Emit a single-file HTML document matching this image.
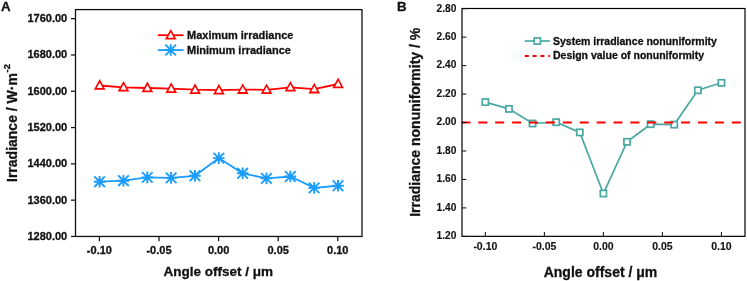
<!DOCTYPE html>
<html><head><meta charset="utf-8"><style>
html,body{margin:0;padding:0;background:#fff;}
body{width:747px;height:281px;overflow:hidden;}
svg{display:block;will-change:transform;}
</style></head><body>
<svg width="747" height="281" viewBox="0 0 747 281">
<polyline points="99.70,85.50 123.54,87.30 147.38,88.00 171.22,88.65 195.06,89.70 218.90,90.20 242.74,89.60 266.58,89.80 290.42,87.30 314.26,89.10 338.10,84.00" fill="none" stroke="#ff0000" stroke-width="1.8"/>
<polyline points="99.60,181.70 123.44,180.70 147.28,177.40 171.12,177.85 194.96,175.80 218.80,158.10 242.64,173.30 266.48,178.40 290.32,176.50 314.16,187.90 338.00,185.75" fill="none" stroke="#1b9cff" stroke-width="1.8"/>
<polygon points="99.70,79.10 93.90,89.80 105.50,89.80" fill="#ff0000"/><polygon points="99.70,82.45 96.70,88.00 102.70,88.00" fill="#fff"/>
<polygon points="123.54,80.90 117.74,91.60 129.34,91.60" fill="#ff0000"/><polygon points="123.54,84.25 120.54,89.80 126.54,89.80" fill="#fff"/>
<polygon points="147.38,81.60 141.58,92.30 153.18,92.30" fill="#ff0000"/><polygon points="147.38,84.95 144.38,90.50 150.38,90.50" fill="#fff"/>
<polygon points="171.22,82.25 165.42,92.95 177.02,92.95" fill="#ff0000"/><polygon points="171.22,85.60 168.22,91.15 174.22,91.15" fill="#fff"/>
<polygon points="195.06,83.30 189.26,94.00 200.86,94.00" fill="#ff0000"/><polygon points="195.06,86.65 192.06,92.20 198.06,92.20" fill="#fff"/>
<polygon points="218.90,83.80 213.10,94.50 224.70,94.50" fill="#ff0000"/><polygon points="218.90,87.15 215.90,92.70 221.90,92.70" fill="#fff"/>
<polygon points="242.74,83.20 236.94,93.90 248.54,93.90" fill="#ff0000"/><polygon points="242.74,86.55 239.74,92.10 245.74,92.10" fill="#fff"/>
<polygon points="266.58,83.40 260.78,94.10 272.38,94.10" fill="#ff0000"/><polygon points="266.58,86.75 263.58,92.30 269.58,92.30" fill="#fff"/>
<polygon points="290.42,80.90 284.62,91.60 296.22,91.60" fill="#ff0000"/><polygon points="290.42,84.25 287.42,89.80 293.42,89.80" fill="#fff"/>
<polygon points="314.26,82.70 308.46,93.40 320.06,93.40" fill="#ff0000"/><polygon points="314.26,86.05 311.26,91.60 317.26,91.60" fill="#fff"/>
<polygon points="338.10,77.60 332.30,88.30 343.90,88.30" fill="#ff0000"/><polygon points="338.10,80.95 335.10,86.50 341.10,86.50" fill="#fff"/>
<path d="M93.80,181.70H105.40M99.60,175.90V187.50M94.30,176.40L104.90,187.00M94.30,187.00L104.90,176.40" stroke="#1b9cff" stroke-width="1.9" fill="none"/>
<path d="M117.64,180.70H129.24M123.44,174.90V186.50M118.14,175.40L128.74,186.00M118.14,186.00L128.74,175.40" stroke="#1b9cff" stroke-width="1.9" fill="none"/>
<path d="M141.48,177.40H153.08M147.28,171.60V183.20M141.98,172.10L152.58,182.70M141.98,182.70L152.58,172.10" stroke="#1b9cff" stroke-width="1.9" fill="none"/>
<path d="M165.32,177.85H176.92M171.12,172.05V183.65M165.82,172.55L176.42,183.15M165.82,183.15L176.42,172.55" stroke="#1b9cff" stroke-width="1.9" fill="none"/>
<path d="M189.16,175.80H200.76M194.96,170.00V181.60M189.66,170.50L200.26,181.10M189.66,181.10L200.26,170.50" stroke="#1b9cff" stroke-width="1.9" fill="none"/>
<path d="M213.00,158.10H224.60M218.80,152.30V163.90M213.50,152.80L224.10,163.40M213.50,163.40L224.10,152.80" stroke="#1b9cff" stroke-width="1.9" fill="none"/>
<path d="M236.84,173.30H248.44M242.64,167.50V179.10M237.34,168.00L247.94,178.60M237.34,178.60L247.94,168.00" stroke="#1b9cff" stroke-width="1.9" fill="none"/>
<path d="M260.68,178.40H272.28M266.48,172.60V184.20M261.18,173.10L271.78,183.70M261.18,183.70L271.78,173.10" stroke="#1b9cff" stroke-width="1.9" fill="none"/>
<path d="M284.52,176.50H296.12M290.32,170.70V182.30M285.02,171.20L295.62,181.80M285.02,181.80L295.62,171.20" stroke="#1b9cff" stroke-width="1.9" fill="none"/>
<path d="M308.36,187.90H319.96M314.16,182.10V193.70M308.86,182.60L319.46,193.20M308.86,193.20L319.46,182.60" stroke="#1b9cff" stroke-width="1.9" fill="none"/>
<path d="M332.20,185.75H343.80M338.00,179.95V191.55M332.70,180.45L343.30,191.05M332.70,191.05L343.30,180.45" stroke="#1b9cff" stroke-width="1.9" fill="none"/>
<rect x="75.5" y="9.6" width="286.5" height="226.85" fill="none" stroke="#111" stroke-width="1.3"/>
<line x1="71" y1="236.45" x2="75.5" y2="236.45" stroke="#111" stroke-width="1.25"/>
<text x="67.2" y="239.85" text-anchor="end" font-size="11" font-family="Liberation Sans, sans-serif" font-weight="bold" fill="#111" stroke="#111" stroke-width="0.3">1280.00</text>
<line x1="71" y1="200.15" x2="75.5" y2="200.15" stroke="#111" stroke-width="1.25"/>
<text x="67.2" y="203.55" text-anchor="end" font-size="11" font-family="Liberation Sans, sans-serif" font-weight="bold" fill="#111" stroke="#111" stroke-width="0.3">1360.00</text>
<line x1="71" y1="163.85" x2="75.5" y2="163.85" stroke="#111" stroke-width="1.25"/>
<text x="67.2" y="167.25" text-anchor="end" font-size="11" font-family="Liberation Sans, sans-serif" font-weight="bold" fill="#111" stroke="#111" stroke-width="0.3">1440.00</text>
<line x1="71" y1="127.55" x2="75.5" y2="127.55" stroke="#111" stroke-width="1.25"/>
<text x="67.2" y="130.95" text-anchor="end" font-size="11" font-family="Liberation Sans, sans-serif" font-weight="bold" fill="#111" stroke="#111" stroke-width="0.3">1520.00</text>
<line x1="71" y1="91.25" x2="75.5" y2="91.25" stroke="#111" stroke-width="1.25"/>
<text x="67.2" y="94.65" text-anchor="end" font-size="11" font-family="Liberation Sans, sans-serif" font-weight="bold" fill="#111" stroke="#111" stroke-width="0.3">1600.00</text>
<line x1="71" y1="54.95" x2="75.5" y2="54.95" stroke="#111" stroke-width="1.25"/>
<text x="67.2" y="58.35" text-anchor="end" font-size="11" font-family="Liberation Sans, sans-serif" font-weight="bold" fill="#111" stroke="#111" stroke-width="0.3">1680.00</text>
<line x1="71" y1="18.65" x2="75.5" y2="18.65" stroke="#111" stroke-width="1.25"/>
<text x="67.2" y="22.05" text-anchor="end" font-size="11" font-family="Liberation Sans, sans-serif" font-weight="bold" fill="#111" stroke="#111" stroke-width="0.3">1760.00</text>
<line x1="99.40" y1="236.45" x2="99.40" y2="241.2" stroke="#111" stroke-width="1.25"/>
<text x="99.40" y="254" text-anchor="middle" font-size="11" font-family="Liberation Sans, sans-serif" font-weight="bold" fill="#111" stroke="#111" stroke-width="0.3">-0.10</text>
<line x1="159.00" y1="236.45" x2="159.00" y2="241.2" stroke="#111" stroke-width="1.25"/>
<text x="159.00" y="254" text-anchor="middle" font-size="11" font-family="Liberation Sans, sans-serif" font-weight="bold" fill="#111" stroke="#111" stroke-width="0.3">-0.05</text>
<line x1="218.60" y1="236.45" x2="218.60" y2="241.2" stroke="#111" stroke-width="1.25"/>
<text x="218.60" y="254" text-anchor="middle" font-size="11" font-family="Liberation Sans, sans-serif" font-weight="bold" fill="#111" stroke="#111" stroke-width="0.3">0.00</text>
<line x1="278.20" y1="236.45" x2="278.20" y2="241.2" stroke="#111" stroke-width="1.25"/>
<text x="278.20" y="254" text-anchor="middle" font-size="11" font-family="Liberation Sans, sans-serif" font-weight="bold" fill="#111" stroke="#111" stroke-width="0.3">0.05</text>
<line x1="337.80" y1="236.45" x2="337.80" y2="241.2" stroke="#111" stroke-width="1.25"/>
<text x="337.80" y="254" text-anchor="middle" font-size="11" font-family="Liberation Sans, sans-serif" font-weight="bold" fill="#111" stroke="#111" stroke-width="0.3">0.10</text>
<text x="218.2" y="275.8" text-anchor="middle" font-size="13.5" font-family="Liberation Sans, sans-serif" font-weight="bold" fill="#111" stroke="#111" stroke-width="0.3">Angle offset / μm</text>
<text transform="translate(16.5,123) rotate(-90)" text-anchor="middle" font-size="14" font-family="Liberation Sans, sans-serif" font-weight="bold" fill="#111" stroke="#111" stroke-width="0.3">Irradiance / W·m<tspan dx="0.6" dy="-6.3" font-size="9.5">-2</tspan></text>
<text x="1" y="10.8" font-size="13.3" font-family="Liberation Sans, sans-serif" font-weight="bold" fill="#111" stroke="#111" stroke-width="0.3">A</text>
<line x1="157.8" y1="35.2" x2="183.5" y2="35.2" stroke="#ff0000" stroke-width="1.8"/>
<polygon points="170.70,28.90 164.90,39.60 176.50,39.60" fill="#ff0000"/><polygon points="170.70,32.25 167.70,37.80 173.70,37.80" fill="#fff"/>
<text x="187" y="39.3" font-size="11" font-family="Liberation Sans, sans-serif" font-weight="bold" fill="#111" stroke="#111" stroke-width="0.3">Maximum irradiance</text>
<line x1="157.8" y1="50.1" x2="183.5" y2="50.1" stroke="#1b9cff" stroke-width="1.8"/>
<path d="M164.90,50.00H176.50M170.70,44.20V55.80M165.40,44.70L176.00,55.30M165.40,55.30L176.00,44.70" stroke="#1b9cff" stroke-width="1.9" fill="none"/>
<text x="187" y="54.2" font-size="11" font-family="Liberation Sans, sans-serif" font-weight="bold" fill="#111" stroke="#111" stroke-width="0.3">Minimum irradiance</text>
<polyline points="485.35,102.10 508.96,108.90 532.57,123.50 556.18,122.20 579.79,132.40 603.40,193.50 627.01,141.80 650.62,124.20 674.23,124.60 697.84,90.30 721.45,82.80" fill="none" stroke="#4aa8a2" stroke-width="1.7"/>
<rect x="482.25" y="99.00" width="6.20" height="6.20" fill="#fff" stroke="#4aa8a2" stroke-width="1.7"/>
<rect x="505.86" y="105.80" width="6.20" height="6.20" fill="#fff" stroke="#4aa8a2" stroke-width="1.7"/>
<rect x="529.47" y="120.40" width="6.20" height="6.20" fill="#fff" stroke="#4aa8a2" stroke-width="1.7"/>
<rect x="553.08" y="119.10" width="6.20" height="6.20" fill="#fff" stroke="#4aa8a2" stroke-width="1.7"/>
<rect x="576.69" y="129.30" width="6.20" height="6.20" fill="#fff" stroke="#4aa8a2" stroke-width="1.7"/>
<rect x="600.30" y="190.40" width="6.20" height="6.20" fill="#fff" stroke="#4aa8a2" stroke-width="1.7"/>
<rect x="623.91" y="138.70" width="6.20" height="6.20" fill="#fff" stroke="#4aa8a2" stroke-width="1.7"/>
<rect x="647.52" y="121.10" width="6.20" height="6.20" fill="#fff" stroke="#4aa8a2" stroke-width="1.7"/>
<rect x="671.13" y="121.50" width="6.20" height="6.20" fill="#fff" stroke="#4aa8a2" stroke-width="1.7"/>
<rect x="694.74" y="87.20" width="6.20" height="6.20" fill="#fff" stroke="#4aa8a2" stroke-width="1.7"/>
<rect x="718.35" y="79.70" width="6.20" height="6.20" fill="#fff" stroke="#4aa8a2" stroke-width="1.7"/>
<line x1="461.4" y1="122.51" x2="745.0" y2="122.51" stroke="#ff0000" stroke-width="1.8" stroke-dasharray="9 7.9"/>
<rect x="462.0" y="8.5" width="283.0" height="227.85" fill="none" stroke="#000" stroke-width="1.2"/>
<line x1="462.0" y1="236.35" x2="466.3" y2="236.35" stroke="#111" stroke-width="1.05"/>
<text x="456.3" y="239.25" text-anchor="end" font-size="10.2" font-family="Liberation Sans, sans-serif" font-weight="bold" fill="#111" stroke="#111" stroke-width="0.12">1.20</text>
<line x1="462.0" y1="207.89" x2="466.3" y2="207.89" stroke="#111" stroke-width="1.05"/>
<text x="456.3" y="210.79" text-anchor="end" font-size="10.2" font-family="Liberation Sans, sans-serif" font-weight="bold" fill="#111" stroke="#111" stroke-width="0.12">1.40</text>
<line x1="462.0" y1="179.43" x2="466.3" y2="179.43" stroke="#111" stroke-width="1.05"/>
<text x="456.3" y="182.33" text-anchor="end" font-size="10.2" font-family="Liberation Sans, sans-serif" font-weight="bold" fill="#111" stroke="#111" stroke-width="0.12">1.60</text>
<line x1="462.0" y1="150.97" x2="466.3" y2="150.97" stroke="#111" stroke-width="1.05"/>
<text x="456.3" y="153.87" text-anchor="end" font-size="10.2" font-family="Liberation Sans, sans-serif" font-weight="bold" fill="#111" stroke="#111" stroke-width="0.12">1.80</text>
<line x1="462.0" y1="122.51" x2="466.3" y2="122.51" stroke="#111" stroke-width="1.05"/>
<text x="456.3" y="125.41" text-anchor="end" font-size="10.2" font-family="Liberation Sans, sans-serif" font-weight="bold" fill="#111" stroke="#111" stroke-width="0.12">2.00</text>
<line x1="462.0" y1="94.05" x2="466.3" y2="94.05" stroke="#111" stroke-width="1.05"/>
<text x="456.3" y="96.95" text-anchor="end" font-size="10.2" font-family="Liberation Sans, sans-serif" font-weight="bold" fill="#111" stroke="#111" stroke-width="0.12">2.20</text>
<line x1="462.0" y1="65.59" x2="466.3" y2="65.59" stroke="#111" stroke-width="1.05"/>
<text x="456.3" y="68.49" text-anchor="end" font-size="10.2" font-family="Liberation Sans, sans-serif" font-weight="bold" fill="#111" stroke="#111" stroke-width="0.12">2.40</text>
<line x1="462.0" y1="37.13" x2="466.3" y2="37.13" stroke="#111" stroke-width="1.05"/>
<text x="456.3" y="40.03" text-anchor="end" font-size="10.2" font-family="Liberation Sans, sans-serif" font-weight="bold" fill="#111" stroke="#111" stroke-width="0.12">2.60</text>
<line x1="462.0" y1="8.67" x2="466.3" y2="8.67" stroke="#111" stroke-width="1.05"/>
<text x="456.3" y="11.57" text-anchor="end" font-size="10.2" font-family="Liberation Sans, sans-serif" font-weight="bold" fill="#111" stroke="#111" stroke-width="0.12">2.80</text>
<line x1="485.35" y1="236.35" x2="485.35" y2="232" stroke="#111" stroke-width="1.05"/>
<text x="485.35" y="249.7" text-anchor="middle" font-size="10.5" font-family="Liberation Sans, sans-serif" font-weight="bold" fill="#111" stroke="#111" stroke-width="0.12">-0.10</text>
<line x1="544.38" y1="236.35" x2="544.38" y2="232" stroke="#111" stroke-width="1.05"/>
<text x="544.38" y="249.7" text-anchor="middle" font-size="10.5" font-family="Liberation Sans, sans-serif" font-weight="bold" fill="#111" stroke="#111" stroke-width="0.12">-0.05</text>
<line x1="603.40" y1="236.35" x2="603.40" y2="232" stroke="#111" stroke-width="1.05"/>
<text x="603.40" y="249.7" text-anchor="middle" font-size="10.5" font-family="Liberation Sans, sans-serif" font-weight="bold" fill="#111" stroke="#111" stroke-width="0.12">0.00</text>
<line x1="662.42" y1="236.35" x2="662.42" y2="232" stroke="#111" stroke-width="1.05"/>
<text x="662.42" y="249.7" text-anchor="middle" font-size="10.5" font-family="Liberation Sans, sans-serif" font-weight="bold" fill="#111" stroke="#111" stroke-width="0.12">0.05</text>
<line x1="721.45" y1="236.35" x2="721.45" y2="232" stroke="#111" stroke-width="1.05"/>
<text x="721.45" y="249.7" text-anchor="middle" font-size="10.5" font-family="Liberation Sans, sans-serif" font-weight="bold" fill="#111" stroke="#111" stroke-width="0.12">0.10</text>
<text x="600.5" y="276.7" text-anchor="middle" font-size="14" font-family="Liberation Sans, sans-serif" font-weight="bold" fill="#111" stroke="#111" stroke-width="0.3">Angle offset / μm</text>
<text transform="translate(419.9,122.3) rotate(-90)" text-anchor="middle" font-size="14" font-family="Liberation Sans, sans-serif" font-weight="bold" fill="#111" stroke="#111" stroke-width="0.3">Irradiance nonuniformity / %</text>
<text x="397" y="10.8" font-size="13.3" font-family="Liberation Sans, sans-serif" font-weight="bold" fill="#111" stroke="#111" stroke-width="0.3">B</text>
<line x1="524.8" y1="41" x2="549.9" y2="41" stroke="#4aa8a2" stroke-width="1.7"/>
<rect x="534.20" y="37.90" width="6.20" height="6.20" fill="#fff" stroke="#4aa8a2" stroke-width="1.7"/>
<text x="553" y="44.9" font-size="10.5" font-family="Liberation Sans, sans-serif" font-weight="bold" fill="#111" stroke="#111" stroke-width="0.3">System irradiance nonuniformity</text>
<line x1="524.8" y1="56" x2="549.9" y2="56" stroke="#ff0000" stroke-width="1.8" stroke-dasharray="4 3.8"/>
<text x="553" y="59.2" font-size="10.5" font-family="Liberation Sans, sans-serif" font-weight="bold" fill="#111" stroke="#111" stroke-width="0.3">Design value of nonuniformity</text>
</svg>
</body></html>
